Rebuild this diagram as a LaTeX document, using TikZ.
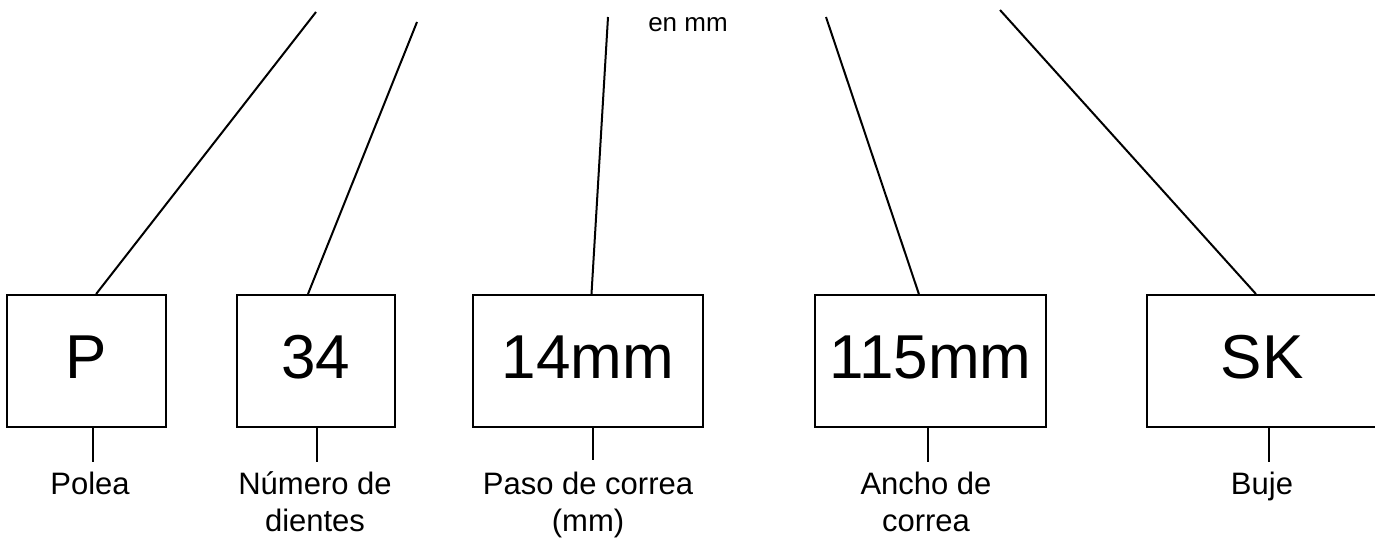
\documentclass[tikz,border=0pt]{standalone}
\usepackage{fontspec}
\setmainfont{Liberation Sans}
\usetikzlibrary{calc}

\begin{document}
\begin{tikzpicture}[x=0.5pt,y=-0.5pt,line width=1pt,
  caja/.style={draw,line width=1pt,inner sep=0pt,minimum height=66pt,
    font=\fontsize{31pt}{37pt}\selectfont,text height=23pt,text depth=6pt},
  estrecha/.style={caja,minimum width=79.25pt},
  ancha/.style={caja,minimum width=115.25pt},
  etq/.style={font=\fontsize{15.5pt}{18.6pt}\selectfont,align=center,inner sep=0pt,anchor=base},
  nota/.style={font=\fontsize{13pt}{15pt}\selectfont,inner sep=0pt}]
  \useasboundingbox (0,0) rectangle (1375,541);
  % cajas
  \node[estrecha] (p) at (86.5,361) {P};
  \node[estrecha] (d) at (316,361) {34};
  \node[ancha] (pc) at (588,361) {14mm};
  \node[ancha] (ac) at (930.5,361) {115mm};
  \node[ancha] (sk) at (1262,361) {SK};
  % etiquetas
  \node[etq] (pl) at (90,494) {Polea};
  \node[etq] (dl) at (315,531.2) {Número de\\dientes};
  \node[etq] (pcl) at (588,531.2) {Paso de correa\\(mm)};
  \node[etq] (acl) at (926,531.2) {Ancho de\\correa};
  \node[etq] (skl) at (1262,494) {Buje};
  \node[nota] (nm) at (688,24.5) {en mm};
  % extremos libres
  \coordinate (pa) at (316,12);
  \coordinate (da) at (417,22);
  \coordinate (pca) at (608,17);
  \coordinate (aca) at (826,17);
  \coordinate (ska) at (1000,10);
  \draw ($(p.north west)!0.56!(p.north east)$) -- (pa);
  \draw ($(d.north west)!0.45!(d.north east)$) -- (da);
  \draw ($(pc.north west)!0.515!(pc.north east)$) -- (pca);
  \draw ($(ac.north west)!0.45!(ac.north east)$) -- (aca);
  \draw ($(sk.north west)!0.474!(sk.north east)$) -- (ska);
  % trazos cortos
  \draw ($(p.south west)!0.54!(p.south east)$) -- ++(0,34);
  \draw ($(d.south west)!0.506!(d.south east)$) -- ++(0,34);
  \draw ($(pc.south west)!0.52!(pc.south east)$) -- ++(0,32);
  \draw ($(ac.south west)!0.49!(ac.south east)$) -- ++(0,34);
  \draw ($(sk.south west)!0.53!(sk.south east)$) -- ++(0,34);
\end{tikzpicture}
\end{document}
